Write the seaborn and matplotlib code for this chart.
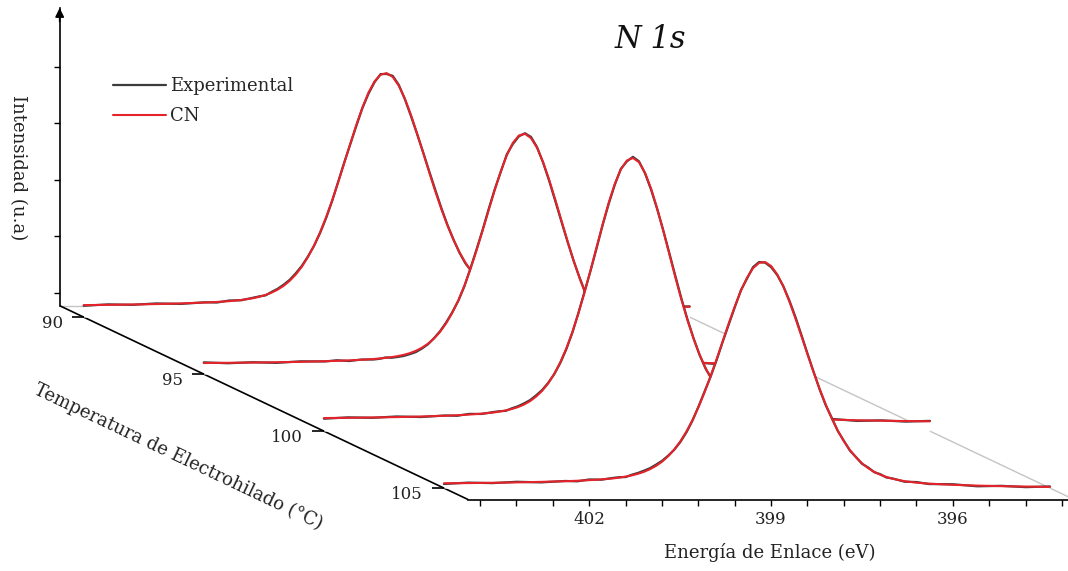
import numpy as np
import pandas as pd
import matplotlib
matplotlib.use("Agg")
import matplotlib.pyplot as plt
from matplotlib.ticker import MultipleLocator
import seaborn as sns

sns.set_theme(style="white")
plt.rcParams['font.family'] = ['DejaVu Serif']

# ---------------- data ----------------
# binding energy sampling (eV): coarse in the flat tails, 0.1 eV across the N 1s peak
energy = [404.0, 403.6, 403.2, 402.8, 402.4, 402.0, 401.8, 401.6, 401.4, 401.2,
          401.1, 401.0, 400.9, 400.8, 400.7, 400.6, 400.5, 400.4, 400.3, 400.2,
          400.1, 400.0, 399.9, 399.8, 399.7, 399.6, 399.5, 399.4, 399.3, 399.2,
          399.1, 399.0, 398.9, 398.8, 398.7, 398.6, 398.5, 398.4, 398.3, 398.2,
          398.1, 398.0, 397.9, 397.8, 397.7, 397.6, 397.5, 397.4, 397.3, 397.2,
          397.1, 397.0, 396.9, 396.8, 396.7, 396.6,
          396.4, 396.2, 396.0, 395.6, 395.2, 394.8, 394.4, 394.0]
temperatures = [90, 95, 100, 105]               # electrospinning temperature (°C)

exp_90 = [0.975, 1.000, 0.992, 1.017, 1.008, 1.037, 1.033, 1.069, 1.073, 1.119,
          1.142, 1.159, 1.220, 1.276, 1.349, 1.436, 1.551, 1.682, 1.847, 2.033,
          2.261, 2.526, 2.830, 3.171, 3.514, 3.836, 4.162, 4.475, 4.729, 4.933,
          5.076, 5.078, 5.045, 4.885, 4.632, 4.335, 4.020, 3.698, 3.363, 3.034,
          2.713, 2.416, 2.154, 1.917, 1.725, 1.589, 1.445, 1.359, 1.259, 1.215,
          1.151, 1.135, 1.089, 1.084, 1.049, 1.050,
          1.015, 1.022, 0.993, 0.996, 0.963, 0.973, 0.951, 0.965]
fit_90 = [0.987, 0.992, 0.998, 1.006, 1.017, 1.033, 1.043, 1.057, 1.078, 1.110,
          1.136, 1.167, 1.208, 1.261, 1.329, 1.418, 1.529, 1.667, 1.837, 2.038,
          2.273, 2.541, 2.840, 3.163, 3.502, 3.846, 4.180, 4.487, 4.749, 4.948,
          5.066, 5.093, 5.025, 4.870, 4.642, 4.355, 4.032, 3.690, 3.345, 3.009,
          2.693, 2.404, 2.148, 1.925, 1.737, 1.579, 1.451, 1.350, 1.270, 1.208,
          1.160, 1.123, 1.095, 1.074, 1.057, 1.045,
          1.024, 1.011, 1.000, 0.986, 0.975, 0.967, 0.961, 0.957]

exp_95 = [0.983, 0.967, 0.985, 0.974, 1.001, 0.999, 1.020, 1.006, 1.033, 1.033,
          1.045, 1.070, 1.064, 1.078, 1.096, 1.128, 1.165, 1.227, 1.303, 1.411,
          1.536, 1.690, 1.869, 2.071, 2.327, 2.644, 2.979, 3.323, 3.692, 4.043,
          4.351, 4.663, 4.847, 4.983, 5.038, 4.972, 4.791, 4.516, 4.194, 3.839,
          3.481, 3.127, 2.789, 2.486, 2.207, 1.940, 1.748, 1.563, 1.445, 1.319,
          1.251, 1.166, 1.136, 1.084, 1.074, 1.041,
          1.025, 0.987, 0.992, 0.958, 0.968, 0.942, 0.951, 0.928]
fit_95 = [0.971, 0.975, 0.979, 0.985, 0.992, 1.003, 1.010, 1.018, 1.028, 1.042,
          1.051, 1.062, 1.076, 1.093, 1.116, 1.146, 1.187, 1.242, 1.313, 1.406,
          1.524, 1.675, 1.859, 2.079, 2.339, 2.634, 2.961, 3.311, 3.672, 4.028,
          4.361, 4.648, 4.867, 4.998, 5.028, 4.952, 4.779, 4.524, 4.212, 3.864,
          3.501, 3.139, 2.795, 2.478, 2.195, 1.950, 1.742, 1.572, 1.434, 1.326,
          1.242, 1.178, 1.130, 1.094, 1.066, 1.046,
          1.016, 0.998, 0.985, 0.968, 0.956, 0.948, 0.941, 0.936]

exp_100 = [0.994, 1.018, 1.010, 1.034, 1.024, 1.051, 1.046, 1.080, 1.078, 1.113,
           1.127, 1.133, 1.178, 1.214, 1.264, 1.322, 1.406, 1.501, 1.627, 1.780,
           1.978, 2.222, 2.516, 2.866, 3.238, 3.610, 4.011, 4.422, 4.797, 5.133,
           5.416, 5.549, 5.629, 5.549, 5.336, 5.045, 4.704, 4.330, 3.927, 3.521,
           3.121, 2.751, 2.419, 2.121, 1.877, 1.700, 1.525, 1.412, 1.295, 1.238,
           1.165, 1.144, 1.094, 1.086, 1.050, 1.048,
           1.012, 1.017, 0.988, 0.989, 0.955, 0.965, 0.943, 0.956]
fit_100 = [1.006, 1.010, 1.016, 1.023, 1.033, 1.047, 1.056, 1.068, 1.083, 1.104,
           1.121, 1.141, 1.166, 1.199, 1.244, 1.304, 1.384, 1.486, 1.617, 1.785,
           1.990, 2.237, 2.526, 2.858, 3.226, 3.620, 4.029, 4.434, 4.817, 5.148,
           5.406, 5.564, 5.609, 5.534, 5.346, 5.065, 4.716, 4.322, 3.909, 3.496,
           3.101, 2.739, 2.413, 2.129, 1.889, 1.690, 1.531, 1.403, 1.306, 1.231,
           1.174, 1.132, 1.100, 1.076, 1.058, 1.043,
           1.021, 1.006, 0.995, 0.979, 0.967, 0.959, 0.953, 0.948]

exp_105 = [0.848, 0.872, 0.863, 0.887, 0.876, 0.901, 0.895, 0.928, 0.924, 0.957,
           0.968, 0.971, 1.012, 1.043, 1.083, 1.128, 1.191, 1.259, 1.350, 1.454,
           1.590, 1.760, 1.967, 2.218, 2.484, 2.747, 3.043, 3.366, 3.673, 3.979,
           4.278, 4.482, 4.687, 4.777, 4.765, 4.684, 4.544, 4.350, 4.094, 3.803,
           3.481, 3.151, 2.831, 2.519, 2.240, 2.016, 1.783, 1.611, 1.436, 1.324,
           1.203, 1.140, 1.056, 1.021, 0.963, 0.946,
           0.888, 0.882, 0.847, 0.843, 0.807, 0.815, 0.792, 0.804]
fit_105 = [0.860, 0.864, 0.869, 0.876, 0.885, 0.897, 0.905, 0.916, 0.929, 0.948,
           0.962, 0.979, 1.000, 1.028, 1.063, 1.110, 1.169, 1.244, 1.340, 1.459,
           1.602, 1.775, 1.977, 2.210, 2.472, 2.757, 3.061, 3.378, 3.693, 3.994,
           4.268, 4.497, 4.667, 4.762, 4.775, 4.704, 4.556, 4.342, 4.076, 3.778,
           3.461, 3.139, 2.825, 2.527, 2.252, 2.006, 1.789, 1.602, 1.447, 1.317,
           1.212, 1.128, 1.062, 1.011, 0.971, 0.941,
           0.897, 0.871, 0.854, 0.833, 0.819, 0.809, 0.802, 0.796]

experimental = {90: exp_90, 95: exp_95, 100: exp_100, 105: exp_105}
fitted = {90: fit_90, 95: fit_95, 100: fit_100, 105: fit_105}

energy_ticks = [402, 399, 396]
intensity_ticks = [1, 2, 3, 4, 5]

# ---------------- geometry of the pseudo-3D box ----------------
W, H = 1068, 571
E_MAX, E_MIN = 404.0, 394.0
I_FLOOR = 0.775
T_BACK, T_FRONT = 89.0, 106.0
PX_PER_EV = 60.6
PX_PER_U = 56.5
DEPTH_DX = 24.02      # px per °C (to the left going back)
DEPTH_DY = 11.4       # px per °C (upwards going back)
FRONT_LEFT_PX = 468.0
FRONT_FLOOR_PX = 499.5   # from top
TOP_PX = 8.0

EXP_COLOR = '#3c3c3c'
FIT_COLOR = '#e4232a'
EDGE_GRAY = '#c4c4c4'


def project(E, T, I):
    depth = T_FRONT - np.asarray(T, dtype=float)
    return (np.asarray(E, dtype=float) + depth * DEPTH_DX / PX_PER_EV,
            np.asarray(I, dtype=float) + depth * DEPTH_DY / PX_PER_U)


rows = []
for T in temperatures:
    for serie, vals in (("Experimental", experimental[T]), ("CN", fitted[T])):
        for E, I in zip(energy, vals):
            rows.append({"T": T, "serie": serie, "E": E, "I": I})
df = pd.DataFrame(rows)
df["Ep"], df["Ip"] = project(df["E"], df["T"], df["I"])

# ---------------- figure ----------------
fig = plt.figure(figsize=(W / 100, H / 100), dpi=100)

ax_w_px = (E_MAX - E_MIN) * PX_PER_EV
ax_h_px = FRONT_FLOOR_PX - TOP_PX
ax = fig.add_axes([FRONT_LEFT_PX / W, (H - FRONT_FLOOR_PX) / H, ax_w_px / W, ax_h_px / H])

depth_span = T_FRONT - T_BACK
back_left_px = FRONT_LEFT_PX - depth_span * DEPTH_DX
back_floor_px = FRONT_FLOOR_PX - depth_span * DEPTH_DY
back_h_px = back_floor_px - TOP_PX
ax_back = fig.add_axes([back_left_px / W, (H - back_floor_px) / H, ax_w_px / W, back_h_px / H])

ax_back.set_zorder(0)
ax.set_zorder(1)
ax.patch.set_visible(False)
ax_back.patch.set_visible(False)

# back plane: intensity axis + gray back floor edge
ax_back.set_xlim(E_MAX, E_MIN)
ax_back.set_ylim(I_FLOOR, I_FLOOR + back_h_px / PX_PER_U)
ax_back.set_xticks([])
ax_back.set_yticks(intensity_ticks)
ax_back.tick_params(axis='y', direction='out', length=4.5, width=1.0, colors='black', labelleft=False, left=True)
for s in ('top', 'right'):
    ax_back.spines[s].set_visible(False)
ax_back.spines['left'].set_color('black')
ax_back.spines['left'].set_linewidth(1.2)
ax_back.spines['bottom'].set_color(EDGE_GRAY)
ax_back.spines['bottom'].set_linewidth(1.0)
ax_back.annotate('', xy=(0, 1.0), xytext=(0, 0.955), xycoords='axes fraction',
                 arrowprops=dict(arrowstyle='-|>', color='black', lw=1.2, mutation_scale=13,
                                 shrinkA=0, shrinkB=0))
ax_back.text((18 - back_left_px) / ax_w_px, (back_floor_px - 168) / back_h_px,
             'Intensidad (u.a)', rotation=270, ha='center', va='center', fontsize=13,
             transform=ax_back.transAxes, color='#222222')

# right floor edge (gray) and depth axis (black)
xe, ye = project([E_MIN, E_MIN], [T_BACK, T_FRONT], [I_FLOOR, I_FLOOR])
ax.plot(xe, ye, color=EDGE_GRAY, lw=1.0, zorder=1, clip_on=False)
xd, yd = project([E_MAX, E_MAX], [T_BACK, T_FRONT], [I_FLOOR, I_FLOOR])
ax.plot(xd, yd, color='black', lw=1.2, zorder=1.5, clip_on=False, solid_capstyle='butt')

xt, yt = project([E_MAX] * len(temperatures), temperatures, [I_FLOOR] * len(temperatures))
ax.plot(xt, yt, ls='none', marker=0, ms=12 * 72 / 100, mew=1.2, color='black', zorder=1.5, clip_on=False)
for T, x, y in zip(temperatures, xt, yt):
    ax.annotate(str(T), xy=(x, y), xytext=(-21, -6), textcoords='offset pixels',
                ha='right', va='center', fontsize=12, color='#222222', annotation_clip=False)

xm, ym = project(E_MAX, (T_BACK + T_FRONT) / 2, I_FLOOR)
angle = np.degrees(np.arctan2(DEPTH_DY, DEPTH_DX))
ax.annotate('Temperatura de Electrohilado (°C)', xy=(xm, ym), xytext=(-86, -54), textcoords='offset pixels',
            ha='center', va='center', rotation=-angle, rotation_mode='anchor', fontsize=13,
            color='#222222', annotation_clip=False)

# curves, back to front, each one hiding what lies behind it
for k, T in enumerate(temperatures):
    sub = df[df["T"] == T]
    exp_sub = sub[sub["serie"] == "Experimental"]
    fit_sub = sub[sub["serie"] == "CN"]
    _, floor_p = project(E_MAX, T, I_FLOOR)
    ax.fill_between(fit_sub["Ep"], float(floor_p), fit_sub["Ip"], color='white', lw=0,
                    zorder=2 + 3 * k, clip_on=False)
    sns.lineplot(data=exp_sub, x="Ep", y="Ip", color=EXP_COLOR, lw=1.6, estimator=None, sort=False,
                 ax=ax, zorder=3 + 3 * k, clip_on=False, legend=False)
    sns.lineplot(data=fit_sub, x="Ep", y="Ip", color=FIT_COLOR, lw=1.5, estimator=None, sort=False,
                 ax=ax, zorder=4 + 3 * k, clip_on=False, legend=False)

# front energy axis
ax.set_xlim(E_MAX, E_MIN)
ax.set_ylim(I_FLOOR, I_FLOOR + ax_h_px / PX_PER_U)
ax.xaxis.set_major_locator(MultipleLocator(3))
ax.xaxis.set_minor_locator(MultipleLocator(0.6))
ax.set_xticks(energy_ticks)
ax.set_xticklabels([str(v) for v in energy_ticks])
ax.set_yticks([])
for s in ('top', 'right', 'left'):
    ax.spines[s].set_visible(False)
ax.spines['bottom'].set_color('black')
ax.spines['bottom'].set_linewidth(1.2)
ax.tick_params(axis='x', which='both', direction='out', length=4.5, width=1.0, colors='black',
               bottom=True, labelsize=12, pad=4, labelcolor='#222222')
ax.set_ylabel('')
ax.set_xlabel('Energía de Enlace (eV)', fontsize=13, color='#222222')
ax.xaxis.set_label_coords((770 - FRONT_LEFT_PX) / ax_w_px, -(543 - FRONT_FLOOR_PX) / ax_h_px)

# legend
ax.legend(handles=[ax.lines[3], ax.lines[4]], labels=['Experimental', 'CN'], loc='upper left',
          bbox_to_anchor=(106 / W, 1 - 70 / H), bbox_transform=fig.transFigure, frameon=False,
          fontsize=13, handlelength=2.9, handletextpad=0.25, labelspacing=0.67, borderpad=0.4,
          borderaxespad=0)

fig.text(650 / W, 1 - 40 / H, 'N 1s', style='italic', fontsize=22, ha='center', va='center', color='#111111')

fig.savefig('out.png', dpi=100)
